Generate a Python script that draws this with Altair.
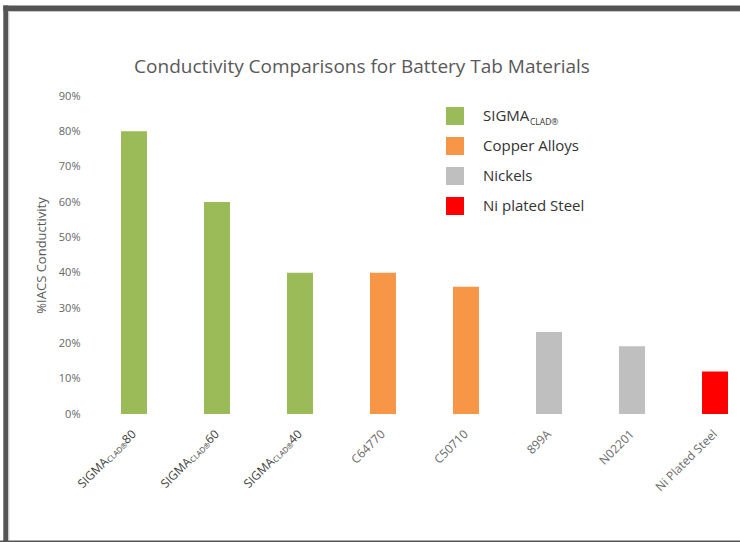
import altair as alt
import pandas as pd

# ---- data ----
categories = ["SIGMACLAD®80", "SIGMACLAD®60", "SIGMACLAD®40", "C64770", "C50710",
              "899A", "N02201", "Ni Plated Steel"]
label_main = ["SIGMA", "SIGMA", "SIGMA", "C64770", "C50710", "899A", "N02201", "Ni Plated Steel"]
label_sub = ["CLAD®", "CLAD®", "CLAD®", "", "", "", "", ""]
label_suffix = ["80", "60", "40", "", "", "", "", ""]
conductivity = [0.80, 0.60, 0.40, 0.40, 0.36, 0.232, 0.192, 0.12]
groups = ["SIGMA", "SIGMA", "SIGMA", "Copper Alloys", "Copper Alloys",
          "Nickels", "Nickels", "Ni plated Steel"]

legend_groups = ["SIGMA", "Copper Alloys", "Nickels", "Ni plated Steel"]
legend_sub = ["CLAD®", "", "", ""]
legend_colors = ["#9BBB59", "#F79646", "#BFBFBF", "#FF0000"]

y_ticks = [0.0, 0.1, 0.2, 0.3, 0.4, 0.5, 0.6, 0.7, 0.8, 0.9]
title_text = ["Conductivity Comparisons for Battery Tab Materials"]
y_title = "%IACS Conductivity"

# ---- tables ----
df = pd.DataFrame({
    "cat": categories,
    "main": label_main,
    "sub": label_sub,
    "suffix": label_suffix,
    "value": conductivity,
    "group": groups,
})
df["end"] = [s if s else m for s, m in zip(df["suffix"], df["main"])]
df["start"] = [m if s else "" for s, m in zip(df["suffix"], df["main"])]

leg = pd.DataFrame({"group": legend_groups, "sub": legend_sub})
title_df = pd.DataFrame({"t": title_text})
one = pd.DataFrame({"k": [0]})

FONT = "Open Sans"

x_enc = alt.X(
    "cat:N",
    sort=categories,
    scale=alt.Scale(domain=categories, range=[0, 669], paddingInner=0.687, paddingOuter=0.3735),
    axis=None,
)

bars = alt.Chart(df).mark_bar().encode(
    x=x_enc,
    y=alt.Y(
        "value:Q",
        scale=alt.Scale(domain=[0, 0.9], nice=False),
        axis=alt.Axis(
            values=y_ticks, format=".0%", title=y_title, grid=False, domain=False,
            ticks=False, tickSize=0, labelPadding=10, labelFont=FONT, labelFontSize=11,
            labelColor="#666666", titleFont=FONT, titleFontSize=13, titleColor="#595959",
            titleFontWeight="normal", titlePadding=10,
        ),
    ),
    color=alt.Color(
        "group:N",
        scale=alt.Scale(domain=legend_groups, range=legend_colors),
        legend=alt.Legend(
            title=None, orient="none", legendX=356, legendY=11, symbolType="square",
            symbolSize=324, symbolStrokeWidth=0, symbolOpacity=1, labelFont=FONT,
            labelFontSize=15, labelColor="#333333", labelOffset=19, rowPadding=12, padding=0,
        ),
    ),
)

lab_end = alt.Chart(df).mark_text(
    angle=315, align="right", baseline="middle", font=FONT, fontSize=12
).encode(
    x=x_enc,
    y=alt.value(336),
    text="end:N",
    color=alt.condition(alt.datum.suffix != "", alt.value("#404040"), alt.value("#6a6a6a")),
)

lab_sub = alt.Chart(df).transform_filter(alt.datum.sub != "").mark_text(
    angle=315, align="right", baseline="middle", font=FONT, fontSize=7.5,
    dx=-13.7, dy=3, color="#404040",
).encode(x=x_enc, y=alt.value(336), text="sub:N")

lab_start = alt.Chart(df).transform_filter(alt.datum.start != "").mark_text(
    angle=315, align="right", baseline="middle", font=FONT, fontSize=12,
    dx=-39.3, color="#404040",
).encode(x=x_enc, y=alt.value(336), text="start:N")

leg_sub = alt.Chart(leg).transform_filter(alt.datum.sub != "").mark_text(
    align="left", baseline="alphabetic", font=FONT, fontSize=8.5, color="#333333"
).encode(x=alt.value(440), y=alt.value(29), text="sub:N")

title = alt.Chart(title_df).mark_text(
    align="center", baseline="middle", font=FONT, fontSize=19, color="#595959"
).encode(x=alt.value(272), y=alt.value(-29), text="t:N")

frame_left = alt.Chart(one).mark_rule(color="#555555", strokeWidth=5).encode(
    x=alt.value(-84.2), y=alt.value(-90.5), y2=alt.value(450))
frame_top = alt.Chart(one).mark_rule(color="#555555", strokeWidth=5.5).encode(
    y=alt.value(-87.75), x=alt.value(-86.7), x2=alt.value(660))
frame_bottom = alt.Chart(one).mark_rule(color="#555555", strokeWidth=3).encode(
    y=alt.value(446), x=alt.value(-90), x2=alt.value(660))
inner_left = alt.Chart(one).mark_rule(color="#c8c8c8", strokeWidth=1).encode(
    x=alt.value(-81.2), y=alt.value(-85), y2=alt.value(444))
inner_top = alt.Chart(one).mark_rule(color="#c8c8c8", strokeWidth=1).encode(
    y=alt.value(-84.5), x=alt.value(-81.7), x2=alt.value(660))

chart = alt.layer(
    bars, lab_end, lab_sub, lab_start, leg_sub, title,
    frame_left, frame_top, frame_bottom, inner_left, inner_top,
).properties(
    width=650,
    height=318,
    autosize=alt.AutoSizeParams(type="none"),
    padding={"left": 90, "top": 96, "right": 0, "bottom": 128},
    background="white",
).configure_view(stroke=None)

chart.save("out.html", embed_options={"renderer": "svg", "actions": False})
